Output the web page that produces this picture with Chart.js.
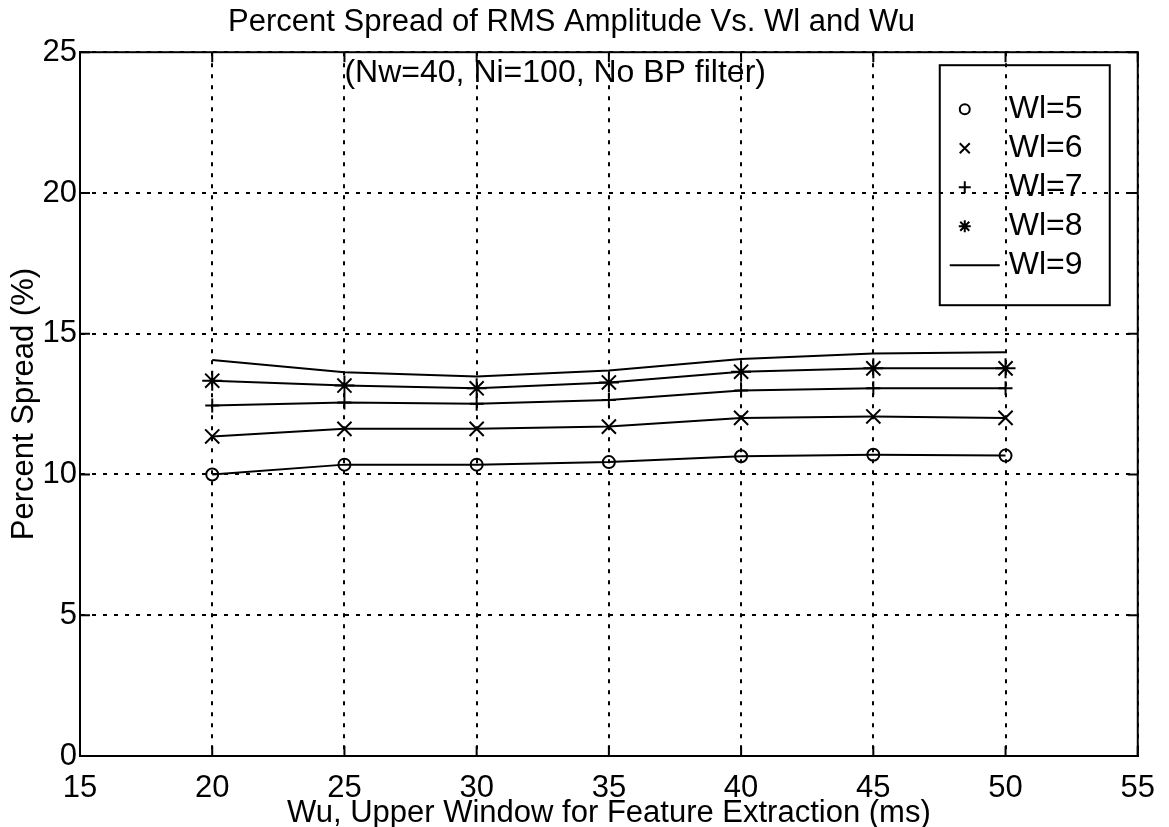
<!DOCTYPE html>
<html>
<head>
<meta charset="utf-8">
<script src="https://cdn.jsdelivr.net/npm/chart.js@4.4.1/dist/chart.umd.min.js"></script>
<style>
  html, body { margin: 0; padding: 0; background: #fff; }
  #wrap { width: 1169px; height: 827px; }
</style>
</head>
<body>
<div id="wrap"><canvas id="myChart" width="1169" height="827"></canvas></div>
<script>
// Wu, upper window (ms)
const wu = [20, 25, 30, 35, 40, 45, 50];
// percent spread for each lower window Wl
const wl5 = [10.00, 10.35, 10.35, 10.44, 10.65, 10.70, 10.67];
const wl6 = [11.35, 11.62, 11.62, 11.70, 12.01, 12.06, 12.01];
const wl7 = [12.45, 12.56, 12.51, 12.65, 12.98, 13.06, 13.06];
const wl8 = [13.33, 13.16, 13.06, 13.27, 13.65, 13.77, 13.77];
const wl9 = [14.07, 13.63, 13.48, 13.69, 14.10, 14.30, 14.34];
const seriesNames = ['Wl=5', 'Wl=6', 'Wl=7', 'Wl=8', 'Wl=9'];
const markers = ['circle', 'crossRot', 'cross', 'star', false];
const markerSize = [6, 10, 7, 10, 0];
const legendSize = [5, 5, 6, 6, 0];

const titleText = 'Percent Spread of RMS Amplitude Vs. Wl and Wu';
const noteText = '(Nw=40, Ni=100, No BP filter)';
const xTitle = 'Wu, Upper Window for Feature Extraction (ms)';
const yTitle = 'Percent Spread (%)';

const FONT = '"Liberation Sans", Arial, Helvetica, sans-serif';
const ctx = document.getElementById('myChart');

const toPoints = ys => ys.map((y, i) => ({ x: wu[i], y }));
const allSeries = [wl5, wl6, wl7, wl8, wl9];

const datasets = allSeries.map((ys, i) => ({
    label: seriesNames[i],
    data: toPoints(ys),
    borderColor: '#000',
    backgroundColor: 'rgba(0,0,0,0)',
    borderWidth: 2,
    pointStyle: markers[i],
    pointRadius: markerSize[i],
    pointBorderWidth: 2,
    pointBorderColor: '#000',
    pointBackgroundColor: 'rgba(0,0,0,0)',
    tension: 0,
}));

function drawMark(c, style, x, y, r) {
    c.beginPath();
    if (style === 'circle') {
        c.arc(x, y, r, 0, Math.PI * 2);
    } else if (style === 'crossRot') {
        c.moveTo(x - r, y - r); c.lineTo(x + r, y + r);
        c.moveTo(x - r, y + r); c.lineTo(x + r, y - r);
    } else if (style === 'cross') {
        c.moveTo(x - r, y); c.lineTo(x + r, y);
        c.moveTo(x, y - r); c.lineTo(x, y + r);
    } else if (style === 'star') {
        c.moveTo(x - r, y); c.lineTo(x + r, y);
        c.moveTo(x, y - r); c.lineTo(x, y + r);
        const d = r * 0.75;
        c.moveTo(x - d, y - d); c.lineTo(x + d, y + d);
        c.moveTo(x - d, y + d); c.lineTo(x + d, y - d);
    } else {
        c.moveTo(x - 15, y); c.lineTo(x + 35, y);
    }
    c.stroke();
}

// frame, inward ticks, note text and legend (MATLAB style)
const matlabBits = {
    id: 'matlabBits',
    beforeDatasetsDraw(chart) {
        const c = chart.ctx;
        const a = chart.chartArea;
        const xs = chart.scales.x, ys = chart.scales.y;
        c.save();
        c.strokeStyle = '#000';
        c.lineWidth = 2;
        c.strokeRect(a.left, a.top, a.right - a.left, a.bottom - a.top);
        const tl = 10;
        c.beginPath();
        xs.ticks.forEach(t => {
            const px = xs.getPixelForValue(t.value);
            c.moveTo(px, a.bottom); c.lineTo(px, a.bottom - tl);
            c.moveTo(px, a.top); c.lineTo(px, a.top + tl);
        });
        ys.ticks.forEach(t => {
            const py = ys.getPixelForValue(t.value);
            c.moveTo(a.left, py); c.lineTo(a.left + tl, py);
            c.moveTo(a.right, py); c.lineTo(a.right - tl, py);
        });
        c.stroke();

        // note under the title
        c.fillStyle = '#000';
        c.font = '32px ' + FONT;
        c.textAlign = 'left';
        c.textBaseline = 'middle';
        c.fillText(noteText, xs.getPixelForValue(25), ys.getPixelForValue(24.25));

        // legend box
        const bw = 170, bh = 240;
        const bx = a.right - 28 - bw, by = a.top + 13;
        c.lineWidth = 2;
        c.strokeRect(bx, by, bw, bh);
        seriesNames.forEach((name, i) => {
            const ry = by + 44 + i * 39;
            c.lineWidth = 2;
            drawMark(c, markers[i], bx + 25, ry, legendSize[i]);
            c.fillText(name, bx + 69, ry);
        });
        c.restore();
    }
};

const gridOpts = {
    color: '#000',
    lineWidth: 2,
    drawTicks: false,
};

const myChart = new Chart(ctx, {
    type: 'line',
    data: { datasets },
    options: {
        responsive: false,
        animation: false,
        layout: { padding: { left: 0, right: 26, top: 0, bottom: 0 } },
        plugins: {
            legend: { display: false },
            tooltip: { enabled: false },
            title: {
                display: true,
                text: titleText,
                color: '#000',
                font: { family: FONT, size: 31, weight: 'normal', lineHeight: 1.2 },
                padding: { top: 4, bottom: 11 },
            },
        },
        scales: {
            x: {
                type: 'linear',
                min: 15,
                max: 55,
                afterFit: s => { s.height = 71; },
                ticks: {
                    stepSize: 5,
                    color: '#000',
                    padding: 14,
                    maxRotation: 0,
                    font: { family: FONT, size: 31 },
                },
                grid: gridOpts,
                border: { display: true, color: '#000', width: 2, dash: [4, 7] },
                title: {
                    display: true,
                    text: xTitle,
                    color: '#000',
                    font: { family: FONT, size: 31, lineHeight: 0.9 },
                    padding: { top: 0, bottom: 0 },
                },
            },
            y: {
                type: 'linear',
                min: 0,
                max: 25,
                afterFit: s => { s.width = 80; },
                ticks: {
                    stepSize: 5,
                    color: '#000',
                    padding: 3,
                    font: { family: FONT, size: 31 },
                },
                grid: gridOpts,
                border: { display: true, color: '#000', width: 2, dash: [4, 7] },
                title: {
                    display: true,
                    text: yTitle,
                    color: '#000',
                    font: { family: FONT, size: 31, lineHeight: 1.2 },
                    padding: { top: 6, bottom: 0 },
                },
            },
        },
    },
    plugins: [matlabBits],
});
</script>
</body>
</html>
